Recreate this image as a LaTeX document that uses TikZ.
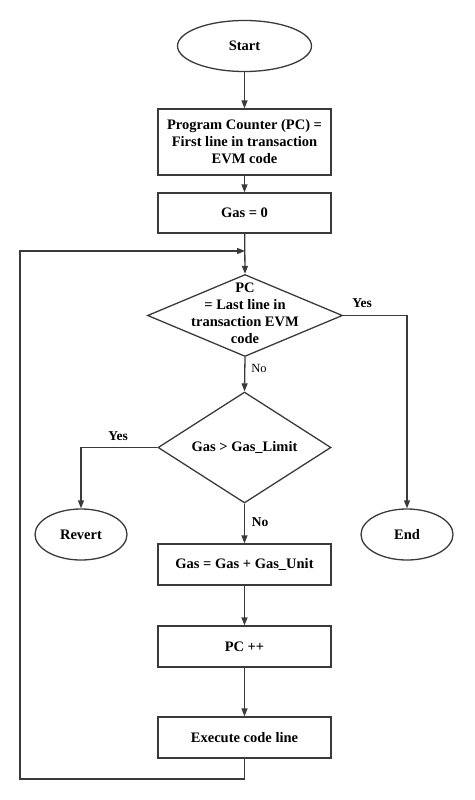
\documentclass[tikz,border=0pt]{standalone}
\usepackage{fontspec}
\setmainfont{Liberation Serif}
\usetikzlibrary{shapes.geometric,arrows.meta}
\definecolor{ln}{HTML}{3A3A3A}
\tikzset{
  base/.style={draw=ln, line width=1.3pt, inner sep=0pt, font=\fontsize{14.5}{17}\selectfont\bfseries, align=center},
  procbox/.style={base, rectangle, minimum width=173pt},
  term/.style={base, ellipse},
  dia/.style={base, diamond, minimum width=195pt, minimum height=82pt},
  txt/.style={inner sep=0pt, font=\fontsize{14.5}{17}\selectfont\bfseries, align=center},
  lbl/.style={inner sep=0pt, font=\fontsize{13.5}{16}\selectfont\bfseries},
  lbln/.style={inner sep=0pt, font=\fontsize{12.5}{15}\selectfont},
  conn/.style={draw=ln, line width=1.3pt, -{Triangle[length=8pt,width=6pt]}},
  plain/.style={draw=ln, line width=1.3pt}
}
\begin{document}
\begin{tikzpicture}[x=1pt,y=-1pt]
\useasboundingbox (0,0) rectangle (474,800);
\node[term, minimum width=134pt, minimum height=51pt] (start) at (244.5,46) {Start};
\node[procbox, minimum height=66pt] (pc) at (244.5,142) {Program Counter (PC) =\\First line in transaction\\EVM code};
\node[procbox, minimum height=40pt] (gas0) at (244.5,213) {Gas = 0};
\node[dia] (d1) at (245,315.5) {};
\node[txt] (d1t) at (245,313) {PC\\= Last line in\\transaction EVM\\code};
\node[dia, minimum width=173pt, minimum height=111pt] (d2) at (244.5,447.5) {};
\node[txt] (d2t) at (244.5,447) {Gas > Gas\_Limit};
\node[term, minimum width=92pt, minimum height=51pt] (rev) at (81,534.5) {Revert};
\node[term, minimum width=92pt, minimum height=51pt] (end) at (407,534.5) {End};
\node[procbox, minimum height=41pt] (gasinc) at (244.5,564.5) {Gas = Gas + Gas\_Unit};
\node[procbox, minimum height=41pt] (pcinc) at (244.5,646.5) {PC ++};
\node[procbox, minimum height=41pt] (exec) at (244.5,737.5) {Execute code line};
\coordinate (lb) at (20,779);
\coordinate (lt) at (20,251);
\coordinate (lm) at (245,251);

\draw[conn] (start) -- (pc);
\draw[conn] (pc) -- (gas0);
\draw[conn] (gas0) -- (d1.north);
\draw[conn] (d1.south) -- (d2.north);
\draw[conn] (d2.south) -- (gasinc);
\draw[conn] (gasinc) -- (pcinc);
\draw[conn] (pcinc) -- (exec);
\draw[conn] (d1.east) -| (end.north);
\draw[conn] (d2.west) -| (rev.north);
\draw[conn] (exec.south) |- (lb) -- (lt) -- (lm);

\node[lbl] (y1) at (362,303) {Yes};
\node[lbln] (n1) at (259,368) {No};
\node[lbl] (y2) at (118,436) {Yes};
\node[lbl] (n2) at (260,522) {No};
\end{tikzpicture}
\end{document}
